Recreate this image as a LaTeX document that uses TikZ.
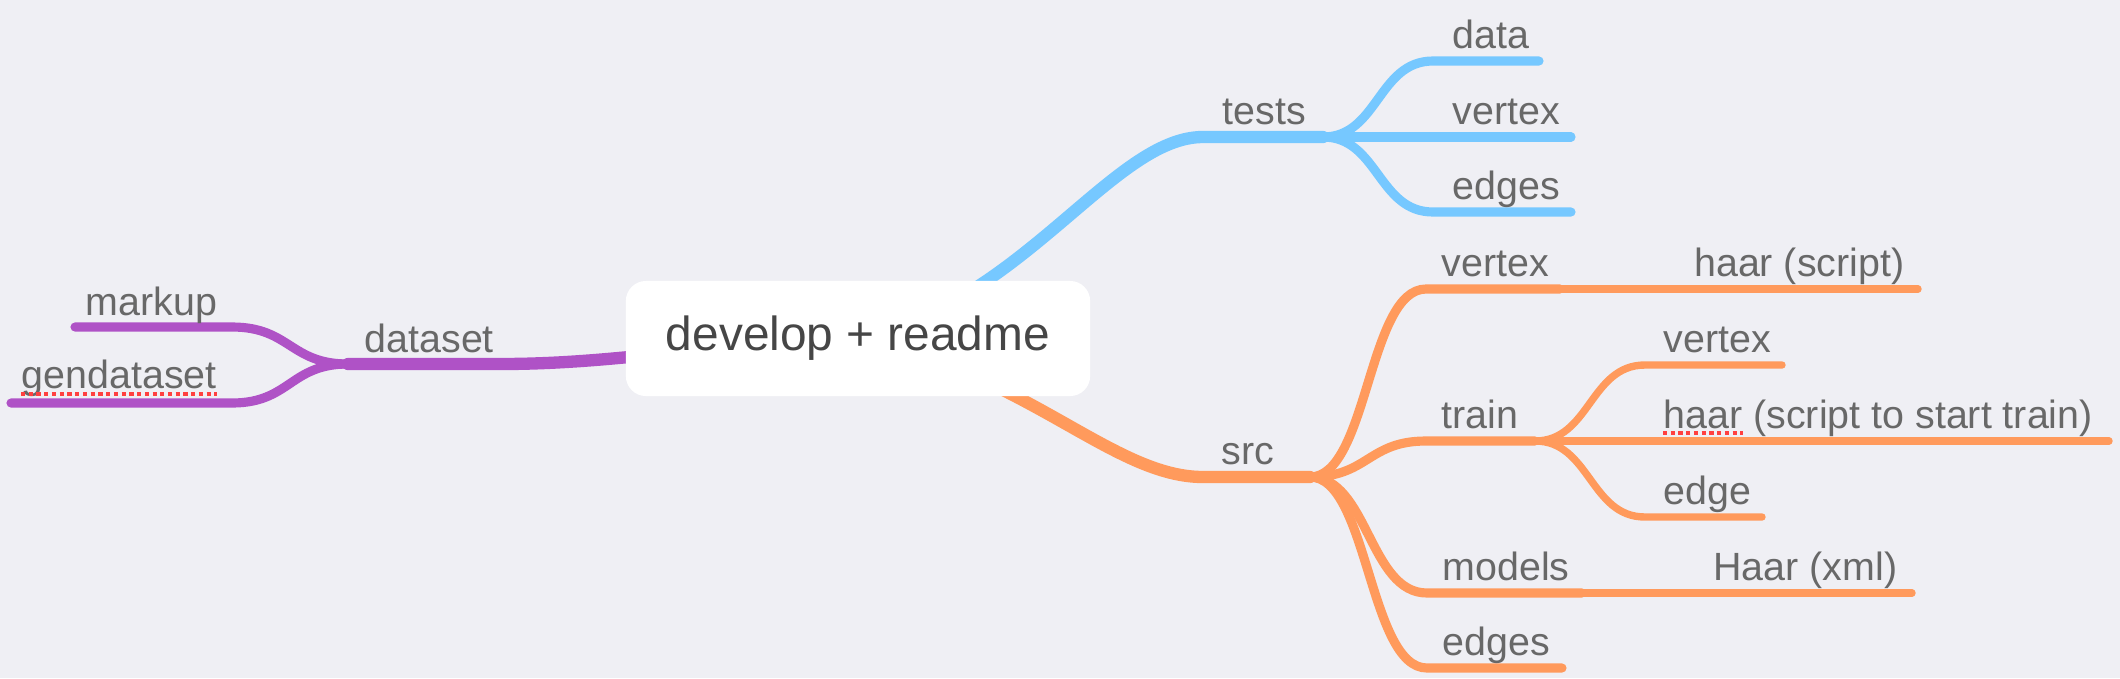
\documentclass[tikz,border=0pt]{standalone}
\usepackage{fontspec}
\setmainfont{Liberation Sans}
\usepackage{tikz}
\usetikzlibrary{calc,positioning}
\usepackage{xcolor}
\definecolor{bgcol}{RGB}{239,239,244}
\definecolor{bluebr}{RGB}{118,200,255}
\definecolor{orangebr}{RGB}{255,154,92}
\definecolor{purplebr}{RGB}{175,82,198}
\definecolor{labelgray}{RGB}{104,104,104}
\definecolor{rootgray}{RGB}{70,70,70}

\begin{document}
\begin{tikzpicture}[x=0.01cm,y=-0.01cm,
	  every node/.style={inner sep=0pt,text=labelgray,font=\fontsize{11.2}{13}\selectfont},
	  rootbox/.style={fill=white,rounded corners=0.2cm,minimum width=4.64cm,minimum height=1.15cm,text=rootgray,font=\fontsize{13.6}{16}\selectfont},
	  topic/.style={anchor=base west},
	  topicr/.style={anchor=base east},
	  lvla/.style={line width=3.5pt,line cap=round},
	  lvlb/.style={line width=2.6pt,line cap=round},
	  lvlc/.style={line width=2.1pt,line cap=round},
	  spell/.style={draw=red!75!white,line width=1.1pt,dash pattern=on 1.2pt off 1pt}]

	  \useasboundingbox (0,0) rectangle (2120,678);
	  \fill[bgcol] (0,0) rectangle (2120,678);

	  % Line ends of every topic (a = where the branch comes in, b = far end)
	  \coordinate (hub) at (858,338.5);
	  \coordinate (tests-a) at (1203,137);     \coordinate (tests-b) at (1323,137);
	  \coordinate (data-a) at (1433,61);       \coordinate (data-b) at (1539,61);
	  \coordinate (tvertex-a) at (1433,137);   \coordinate (tvertex-b) at (1571,137);
	  \coordinate (tedges-a) at (1433,212);    \coordinate (tedges-b) at (1571,212);
	  \coordinate (src-a) at (1203,477);       \coordinate (src-b) at (1310,477);
	  \coordinate (svertex-a) at (1426,289);   \coordinate (svertex-b) at (1560,289);
	  \coordinate (hscript-b) at (1918,289);
	  \coordinate (train-a) at (1426,441);     \coordinate (train-b) at (1535,441);
	  \coordinate (rvertex-a) at (1645,365);   \coordinate (rvertex-b) at (1782,365);
	  \coordinate (htrain-a) at (1645,441);    \coordinate (htrain-b) at (2109,441);
	  \coordinate (redge-a) at (1645,517);     \coordinate (redge-b) at (1762,517);
	  \coordinate (models-a) at (1427,593);    \coordinate (models-b) at (1582,593);
	  \coordinate (hxml-b) at (1912,593);
	  \coordinate (sedges-a) at (1427,668);    \coordinate (sedges-b) at (1562,668);
	  \coordinate (dataset-a) at (500,364);    \coordinate (dataset-b) at (348,364);
	  \coordinate (markup-a) at (232,327);     \coordinate (markup-b) at (75,327);
	  \coordinate (gendata-a) at (232,403);    \coordinate (gendata-b) at (11,403);

	  % branches
	  \draw[lvla,bluebr] (hub) .. controls +(165,-35) and +(-90,0) .. (tests-a) -- (tests-b);
	  \draw[lvlb,bluebr] (tests-b) .. controls +(55,0) and +(-55,0) .. (data-a) -- (data-b);
	  \draw[lvlb,bluebr] (tests-b) -- (tvertex-a) -- (tvertex-b);
	  \draw[lvlb,bluebr] (tests-b) .. controls +(55,0) and +(-55,0) .. (tedges-a) -- (tedges-b);

	  \draw[lvla,orangebr] (hub) .. controls +(170,35) and +(-90,0) .. (src-a) -- (src-b);
	  \draw[lvlb,orangebr] (src-b) .. controls +(58,0) and +(-58,0) .. (svertex-a) -- (svertex-b);
	  \draw[lvlc,orangebr] (svertex-b) -- (hscript-b);
	  \draw[lvlb,orangebr] (src-b) .. controls +(58,0) and +(-58,0) .. (train-a) -- (train-b);
	  \draw[lvlc,orangebr] (train-b) .. controls +(55,0) and +(-55,0) .. (rvertex-a) -- (rvertex-b);
	  \draw[lvlc,orangebr] (train-b) -- (htrain-a) -- (htrain-b);
	  \draw[lvlc,orangebr] (train-b) .. controls +(55,0) and +(-55,0) .. (redge-a) -- (redge-b);
	  \draw[lvlb,orangebr] (src-b) .. controls +(58,0) and +(-58,0) .. (models-a) -- (models-b);
	  \draw[lvlc,orangebr] (models-b) -- (hxml-b);
	  \draw[lvlb,orangebr] (src-b) .. controls +(58,0) and +(-58,0) .. (sedges-a) -- (sedges-b);

	  \draw[lvla,purplebr] (hub) .. controls +(-150,5) and +(120,0) .. (dataset-a) -- (dataset-b);
	  \draw[lvlb,purplebr] (dataset-b) .. controls +(-58,0) and +(58,0) .. (markup-a) -- (markup-b);
	  \draw[lvlb,purplebr] (dataset-b) .. controls +(-58,0) and +(58,0) .. (gendata-a) -- (gendata-b);

	  \node[rootbox] (root) at (hub) {develop + readme};

	  % topic texts
	  \node[topic] (tests) at ($(tests-a)+(19,-13)$) {tests};
	  \node[topic] (data) at ($(data-a)+(19,-13)$) {data};
	  \node[topic] (tvertex) at ($(tvertex-a)+(19,-13)$) {vertex};
	  \node[topic] (tedges) at ($(tedges-a)+(19,-13)$) {edges};
	  \node[topic] (src) at ($(src-a)+(18,-13)$) {src};
	  \node[topic] (svertex) at ($(svertex-a)+(15,-13)$) {vertex};
	  \node[topicr] (hscript) at ($(hscript-b)+(-13,-13)$) {haar (script)};
	  \node[topic] (train) at ($(train-a)+(15,-13)$) {train};
	  \node[topic] (rvertex) at ($(rvertex-a)+(18,-13)$) {vertex};
	  \node[topic] (htrain) at ($(htrain-a)+(18,-13)$) {haar (script to start train)};
	  \node[topic] (redge) at ($(redge-a)+(18,-13)$) {edge};
	  \node[topic] (models) at ($(models-a)+(15,-13)$) {models};
	  \node[topicr] (hxml) at ($(hxml-b)+(-14,-13)$) {Haar (xml)};
	  \node[topic] (sedges) at ($(sedges-a)+(15,-13)$) {edges};
	  \node[topic] (dataset) at ($(dataset-b)+(16,-12)$) {dataset};
	  \node[topic] (markup) at ($(markup-b)+(10,-12)$) {markup};
	  \node[topic] (gendata) at ($(gendata-b)+(10,-15)$) {gendataset};

	  \draw[spell] ($(gendata.base west)+(0,6)$) -- ($(gendata.base east)+(0,6)$);
	  \draw[spell] ($(htrain.base west)+(0,5)$) -- +(80,0);

\end{tikzpicture}
\end{document}
